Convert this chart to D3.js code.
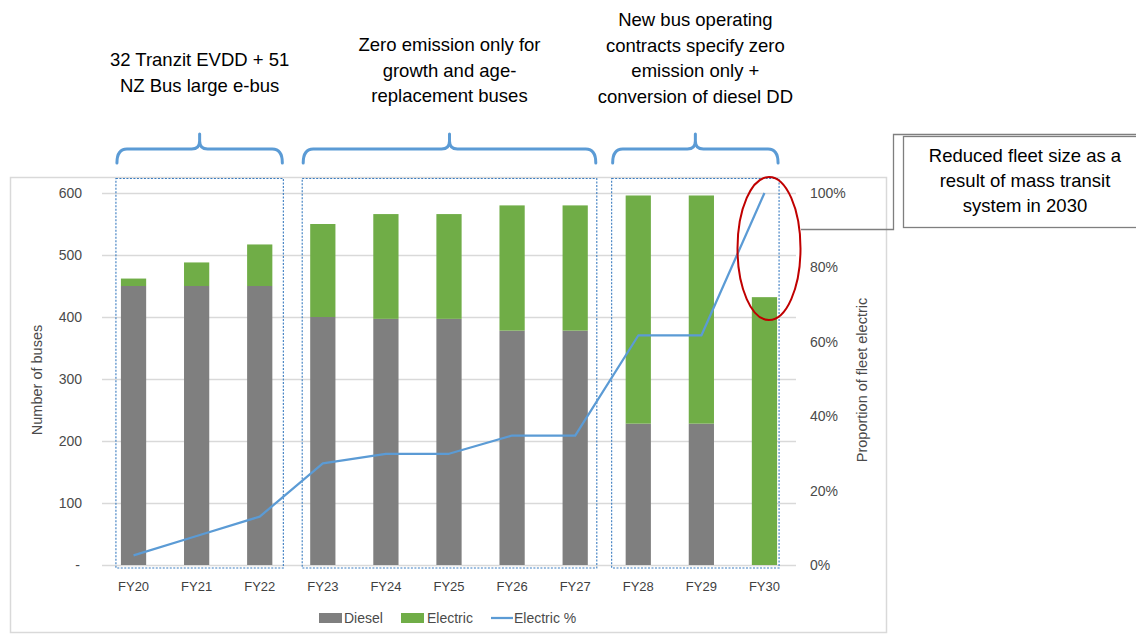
<!DOCTYPE html>
<html><head><meta charset="utf-8">
<script src="https://cdn.jsdelivr.net/npm/d3@7"></script>
<style>
html,body{margin:0;padding:0;background:#fff;}
svg{display:block;font-family:"Liberation Sans",Arial,sans-serif;}
</style></head>
<body>
<svg id="c" width="1136" height="634"></svg>
<script>
// ---- data ----
const categories = ["FY20","FY21","FY22","FY23","FY24","FY25","FY26","FY27","FY28","FY29","FY30"];
const diesel   = [450, 450, 450, 400, 397, 397, 378, 378, 228, 228, 0];
const electric = [12, 38, 67, 150, 169, 169, 202, 202, 368, 368, 432];
const electricPct = [0.026, 0.078, 0.13, 0.273, 0.299, 0.299, 0.348, 0.348, 0.617, 0.617, 1.0];
const leftTicks = [0, 100, 200, 300, 400, 500, 600];
const rightTicks = [0, 0.2, 0.4, 0.6, 0.8, 1.0];
const groupFirst = ["FY20", "FY23", "FY28"];
const groupLast  = ["FY22", "FY27", "FY30"];
const groupText = [
  ["32 Tranzit EVDD + 51", "NZ Bus large e-bus"],
  ["Zero emission only for", "growth and age-", "replacement buses"],
  ["New bus operating", "contracts specify zero", "emission only +", "conversion of diesel DD"]
];
const calloutText = ["Reduced fleet size as a", "result of mass transit", "system in 2030"];
const seriesNames = ["Diesel", "Electric", "Electric %"];

// ---- styles / layout ----
const C = {diesel:"#7f7f7f", electric:"#70ad47", line:"#5b9bd5", grid:"#d9d9d9", tick:"#4a4a4a", box:"#3a7cc0"};
const svg = d3.select("#c");
const plot = {left:102, right:796, top:193, bottom:565};
const boxPad = [[5, 11], [8, 9], [14, 2]];      // left/right padding of group boxes
const textBaseline = [66, 51, 26];
const lineH = 25.5;

const x = d3.scaleBand().domain(categories).range([plot.left, plot.right]).paddingInner(0.6).paddingOuter(0.3);
const yL = d3.scaleLinear().domain([0, 600]).range([plot.bottom, plot.top]);
const yR = d3.scaleLinear().domain([0, 1]).range([plot.bottom, plot.top]);

// chart frame
svg.append("rect").attr("x", 10.5).attr("y", 177.5).attr("width", 876).attr("height", 455)
  .attr("fill", "none").attr("stroke", "#d9d9d9").attr("stroke-width", 1.5);

// gridlines
svg.append("g").selectAll("line").data(leftTicks).join("line")
  .attr("x1", plot.left).attr("x2", plot.right)
  .attr("y1", d => Math.round(yL(d)) + 0.5).attr("y2", d => Math.round(yL(d)) + 0.5)
  .attr("stroke", C.grid).attr("stroke-width", 1.5);

// left axis
const axL = d3.axisLeft(yL).tickValues(leftTicks).tickSize(0).tickPadding(0)
  .tickFormat(d => d === 0 ? "-" : d3.format("d")(d));
const gL = svg.append("g").attr("transform", "translate(82,0)").call(axL);
gL.select(".domain").remove();
gL.selectAll("text").attr("fill", C.tick).attr("font-size", 14).attr("dx", d => d === 0 ? -2 : 0)
  .style("font-family", "'Liberation Sans',Arial,sans-serif");

// right axis
const axR = d3.axisRight(yR).tickValues(rightTicks).tickSize(0).tickPadding(0).tickFormat(d3.format(".0%"));
const gR = svg.append("g").attr("transform", "translate(810,0)").call(axR);
gR.select(".domain").remove();
gR.selectAll("text").attr("fill", C.tick).attr("font-size", 14)
  .style("font-family", "'Liberation Sans',Arial,sans-serif");

// bottom axis
const axB = d3.axisBottom(x).tickSize(0).tickPadding(0);
const gB = svg.append("g").attr("transform", "translate(0,591)").call(axB);
gB.select(".domain").remove();
gB.selectAll("text").attr("fill", "#3f3f3f").attr("font-size", 13).attr("dy", 0)
  .style("font-family", "'Liberation Sans',Arial,sans-serif");

// axis titles
svg.append("text").attr("transform", "translate(42,380) rotate(-90)").attr("text-anchor", "middle")
  .attr("font-size", 14.5).attr("fill", C.tick).text("Number of buses");
svg.append("text").attr("transform", "translate(867,380) rotate(-90)").attr("text-anchor", "middle")
  .attr("font-size", 14.5).attr("fill", C.tick).text("Proportion of fleet electric");

// bars
const stacked = categories.map((c, i) => ({c, d: diesel[i], e: electric[i]}));
svg.append("g").selectAll("rect").data(stacked).join("rect")
  .attr("x", d => x(d.c)).attr("width", x.bandwidth())
  .attr("y", d => yL(d.d)).attr("height", d => yL(0) - yL(d.d)).attr("fill", C.diesel);
svg.append("g").selectAll("rect").data(stacked).join("rect")
  .attr("x", d => x(d.c)).attr("width", x.bandwidth())
  .attr("y", d => yL(d.d + d.e)).attr("height", d => yL(d.d) - yL(d.d + d.e)).attr("fill", C.electric);

// group boxes, braces, texts
groupFirst.forEach((f, i) => {
  const L = x(f) - boxPad[i][0];
  const R = x(groupLast[i]) + x.bandwidth() + boxPad[i][1];
  svg.append("rect").attr("x", L).attr("y", 178.5).attr("width", R - L).attr("height", 389.5)
    .attr("fill", "none").attr("stroke", C.box).attr("stroke-width", 1.1).attr("stroke-dasharray", "2,1.5");
  const Cx = (L + R) / 2, bL = L + 1, bR = R - 1;
  const p = `M${bL},163 Q${bL},149 ${bL+10},149 L${Cx-8},149 Q${Cx},149 ${Cx},141 L${Cx},134 M${Cx},141 Q${Cx},149 ${Cx+8},149 L${bR-10},149 Q${bR},149 ${bR},163`;
  svg.append("path").attr("d", p).attr("fill", "none").attr("stroke", C.line)
    .attr("stroke-width", 3).attr("stroke-linecap", "round");
  svg.append("g").selectAll("text").data(groupText[i]).join("text")
    .attr("x", Cx).attr("y", (d, j) => textBaseline[i] + j * lineH)
    .attr("text-anchor", "middle").attr("font-size", 18.5).attr("fill", "#000").text(d => d);
});

// electric % line
const line = d3.line().x((d, i) => x(categories[i]) + x.bandwidth() / 2).y(d => yR(d));
svg.append("path").datum(electricPct).attr("d", line).attr("fill", "none")
  .attr("stroke", C.line).attr("stroke-width", 2.25).attr("stroke-linejoin", "round");

// red ellipse
svg.append("ellipse").attr("cx", 769).attr("cy", 248.5).attr("rx", 31.5).attr("ry", 71.5)
  .attr("fill", "none").attr("stroke", "#c00000").attr("stroke-width", 2);

// callout
svg.append("polyline").attr("points", "801,229.5 893.5,229.5 893.5,134.5 1136,134.5")
  .attr("fill", "none").attr("stroke", "#7f7f7f").attr("stroke-width", 1.3);
svg.append("rect").attr("x", 903.5).attr("y", 136.5).attr("width", 240).attr("height", 91)
  .attr("fill", "#fff").attr("stroke", "#7f7f7f").attr("stroke-width", 1.3);
svg.append("g").selectAll("text").data(calloutText).join("text")
  .attr("x", 1025).attr("y", (d, j) => 162 + j * 25).attr("text-anchor", "middle")
  .attr("font-size", 18.5).attr("fill", "#000").text(d => d);

// legend
const lg = svg.append("g").attr("font-size", 14).attr("fill", C.tick);
lg.append("rect").attr("x", 319).attr("y", 613).attr("width", 23).attr("height", 10).attr("fill", C.diesel);
lg.append("text").attr("x", 344).attr("y", 623).text(seriesNames[0]);
lg.append("rect").attr("x", 401).attr("y", 613).attr("width", 23).attr("height", 10).attr("fill", C.electric);
lg.append("text").attr("x", 427).attr("y", 623).text(seriesNames[1]);
lg.append("line").attr("x1", 491).attr("x2", 513).attr("y1", 618).attr("y2", 618)
  .attr("stroke", C.line).attr("stroke-width", 2.25);
lg.append("text").attr("x", 514).attr("y", 623).text(seriesNames[2]);
</script>
</body></html>
